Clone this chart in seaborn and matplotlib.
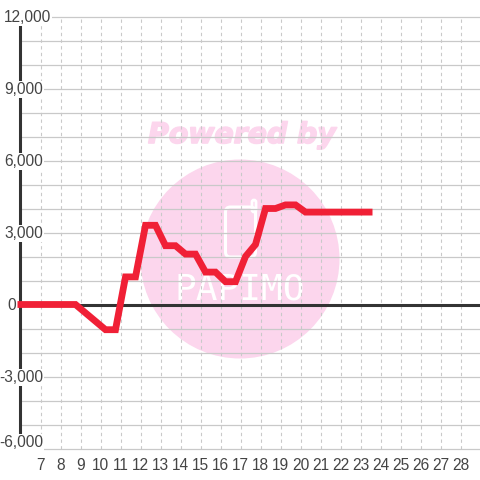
import numpy as np
import pandas as pd
import seaborn as sns
import matplotlib
matplotlib.use('Agg')
import matplotlib.pyplot as plt
import matplotlib.patheffects as pe
from matplotlib.patches import Circle, FancyBboxPatch

# values
days = [5.85, 8.75, 10.25, 10.75, 11.25, 11.75, 12.25, 12.75, 13.25, 13.75, 14.25, 14.75,
        15.25, 15.75, 16.25, 16.75, 17.25, 17.75, 18.25, 18.75, 19.25, 19.75, 20.25, 23.6]
values = [0, 0, -1050, -1050, 1150, 1150, 3300, 3300, 2450, 2450, 2100, 2100,
          1350, 1350, 950, 950, 2000, 2500, 4000, 4000, 4150, 4150, 3850, 3850]
x_ticks = list(range(7, 29))
grid_y = list(range(-6000, 13000, 1000))
y_labels = ['12,000', '9,000', '6,000', '3,000', '0', '-3,000', '-6,000']
# pixel placement of the y labels: right edge, centre height
label_right = [51, 43, 43, 43, 16, 43, 43]
label_mid = [16, 88, 160, 232, 304, 376, 441]

sns.set_theme(style='white')
plt.rcParams['font.family'] = ['Liberation Sans', 'DejaVu Sans']

fig = plt.figure(figsize=(4.8, 4.8), dpi=100)
ax = fig.add_axes([0, 0, 1, 1])
ax.set_xlim(4.975, 28.975)
ax.set_ylim(-7312.5, 12687.5)
ax.axis('off')

# pixel helper for the things placed by hand (y down, like the picture)
px = matplotlib.transforms.Affine2D().scale(1, -1).translate(0, 480)

# watermark
pink = '#fcd6ed'
fig.patches.append(Circle((240, 259), 99.5, color=pink, lw=0, transform=px, zorder=0))
fig.text(242 / 480, 1 - 135 / 480, 'Powered by', color=pink, fontsize=20.4, fontweight='bold',
         style='italic', family='DejaVu Sans', ha='center', va='center', zorder=1,
         path_effects=[pe.withStroke(linewidth=1.2, foreground=pink)])
fig.patches.append(FancyBboxPatch((225.5, 207), 30, 50, boxstyle='round,pad=0,rounding_size=5',
                                  fc='none', ec='white', lw=2.2, transform=px, zorder=0.5))
fig.patches.append(FancyBboxPatch((252, 200), 4, 12, boxstyle='round,pad=0,rounding_size=2',
                                  fc='none', ec='white', lw=2.0, transform=px, zorder=0.5))
fig.text(240 / 480, 1 - 290 / 480, 'PAPIMO', color='white', fontsize=26, family='DejaVu Sans Mono',
         ha='center', va='center', zorder=1)

ax.set_zorder(2)
ax.patch.set_visible(False)

# grid
ax.hlines(grid_y, 6, 29, color='#c9c9c9', lw=0.9, zorder=1)
ax.vlines(x_ticks, -6000, 12000, color='#c9c9c9', lw=0.8, linestyles=(0, (3, 3)), zorder=1)

# axes lines
ax.vlines(5.97, -6000, 12000, color='#333333', lw=2.2, zorder=2)
ax.hlines(0, 6, 29, color='#333333', lw=2.2, zorder=2)

# series
df = pd.DataFrame({'day': days, 'value': values})
sns.lineplot(data=df, x='day', y='value', color='#f02036', lw=4.9, sort=False, errorbar=None,
             solid_capstyle='butt', solid_joinstyle='miter', ax=ax, zorder=3)

# tick labels
for lab, r, m in zip(y_labels, label_right, label_mid):
    bg = None if lab == '0' else dict(fc='white', ec='none', pad=0.6)
    ax.text(r / 480, 1 - m / 480, lab, transform=ax.transAxes, ha='right', va='center_baseline',
            fontsize=11.2, color='#444444', bbox=bg, zorder=4 if lab != '0' else 1.5)
for d in x_ticks:
    ax.text(d, -6650, str(d), ha='center', va='center_baseline', fontsize=11.2, color='#444444', zorder=4)

fig.savefig('out.png', dpi=100)
